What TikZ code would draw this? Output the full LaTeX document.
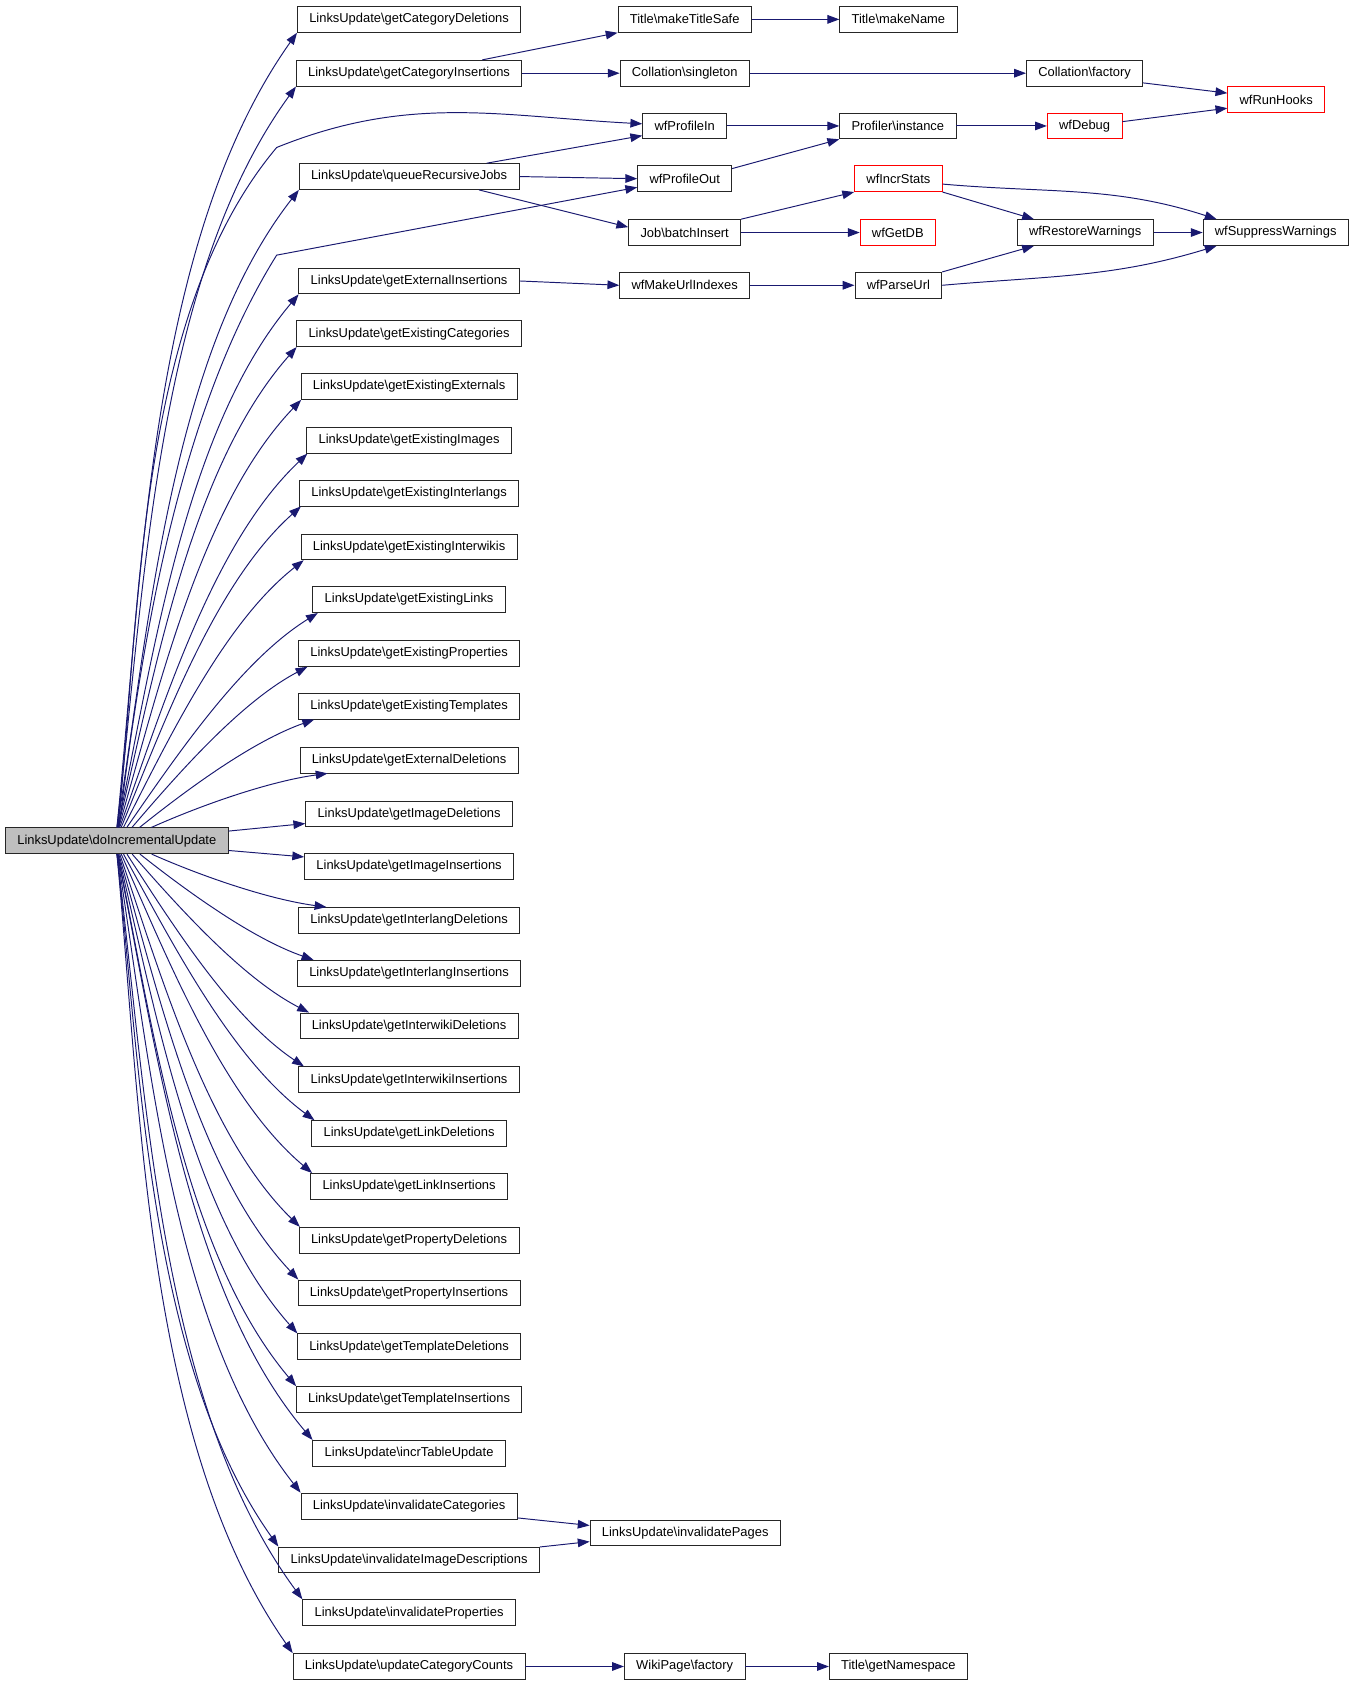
\documentclass[tikz,border=0pt]{standalone}
\usepackage{fontspec}
\newfontfamily\dxfont{Liberation Sans}
\usetikzlibrary{arrows.meta,calc}
\definecolor{edgeblue}{RGB}{25,25,112}
\definecolor{rootgray}{RGB}{191,191,191}
\definecolor{warnred}{RGB}{255,0,0}
\tikzset{
  fn/.style={draw=black!85,line width=0.8pt,fill=white,inner xsep=11pt,
    inner ysep=0pt,minimum height=24pt,font=\dxfont\fontsize{12}{14}\selectfont},
  fnred/.style={fn,draw=warnred},
  fnroot/.style={fn,fill=rootgray},
  call/.style={draw=edgeblue,line width=0.9pt,-{Triangle[length=11pt,width=8pt]}}
}

\begin{document}
\begin{tikzpicture}[x=1pt,y=1pt]
\useasboundingbox (0,0) rectangle (1259,-1568);

% caller
\node[fnroot] (root) at (108.5,-781) {LinksUpdate\textbackslash doIncrementalUpdate};

% direct callees
\foreach \nd/\yy/\txt in {cd/18/getCategoryDeletions, ci/68/getCategoryInsertions,
    qrj/164/queueRecursiveJobs, gei/261/getExternalInsertions,
    gxc/310/getExistingCategories, gxe/359/getExistingExternals,
    gxi/409/getExistingImages, gxl/458/getExistingInterlangs,
    gxw/508/getExistingInterwikis, gxk/557/getExistingLinks,
    gxp/607/getExistingProperties, gxt/656/getExistingTemplates,
    ged/706/getExternalDeletions, gid/756/getImageDeletions,
    gii/805/getImageInsertions, gld/855/getInterlangDeletions,
    gli/904/getInterlangInsertions, gwd/953/getInterwikiDeletions,
    gwi/1003/getInterwikiInsertions, gkd/1053/getLinkDeletions,
    gki/1102/getLinkInsertions, gpd/1152/getPropertyDeletions,
    gpi/1201/getPropertyInsertions, gtd/1251/getTemplateDeletions,
    gti/1300/getTemplateInsertions, itu/1350/incrTableUpdate,
    ic/1399/invalidateCategories, iid/1449/invalidateImageDescriptions,
    ip/1498/invalidateProperties, ucc/1548/updateCategoryCounts}
  \node[fn] (\nd) at (380,-\yy) {LinksUpdate\textbackslash \txt};

% second level
\node[fn] (mts) at (636,-18) {Title\textbackslash makeTitleSafe};
\node[fn] (sing) at (636,-68) {Collation\textbackslash singleton};
\node[fn] (wpi) at (636,-117) {wfProfileIn};
\node[fn] (wpo) at (636,-166) {wfProfileOut};
\node[fn] (jbi) at (636,-216) {Job\textbackslash batchInsert};
\node[fn] (wmu) at (636,-265) {wfMakeUrlIndexes};
\node[fn] (iup) at (636.5,-1424) {LinksUpdate\textbackslash invalidatePages};
\node[fn] (wpf) at (636,-1548) {WikiPage\textbackslash factory};

% third level
\node[fn] (tmn) at (834.5,-18) {Title\textbackslash makeName};
\node[fn] (pin) at (834,-117) {Profiler\textbackslash instance};
\node[fnred] (wis) at (834.5,-166) {wfIncrStats};
\node[fnred] (wgd) at (834,-216) {wfGetDB};
\node[fn] (wpu) at (834.5,-265) {wfParseUrl};
\node[fn] (tgn) at (834.5,-1548) {Title\textbackslash getNamespace};

% fourth and fifth level
\node[fn] (cfa) at (1007.5,-68) {Collation\textbackslash factory};
\node[fnred] (wdb) at (1007.5,-117) {wfDebug};
\node[fn] (wrw) at (1008,-216) {wfRestoreWarnings};
\node[fnred] (wrh) at (1185.5,-92.5) {wfRunHooks};
\node[fn] (wsw) at (1185,-216) {wfSuppressWarnings};

% fan out of the caller
\foreach \nd/\yy in {cd/18,ci/68,qrj/164,gei/261,gxc/310,gxe/359,gxi/409,
    gxl/458,gxw/508,gxk/557,gxp/607,gxt/656,ged/706,gld/855,gli/904,
    gwd/953,gwi/1003,gkd/1053,gki/1102,gpd/1152,gpi/1201,gtd/1251,
    gti/1300,itu/1350,ic/1399,iid/1449,ip/1498,ucc/1548}{
  \pgfmathsetmacro\dy{781-\yy}
  \pgfmathsetmacro\ady{abs(\dy)}
  \pgfmathsetmacro\sx{60*exp(-\ady/120)}
  \pgfmathsetmacro\off{60*exp(-\ady/90)}
  \pgfmathsetmacro\bnd{20*(1-exp(-\ady/200))+3}
  \ifdim\dy pt>0pt
    \draw[call] let \p1=([xshift=\sx]root.north),
        \p2=([xshift=\off]\nd.south west),
        \n1={atan2(\y2-\y1,\x2-\x1)}, \n2={\n1+7}, \n3={180+\n1-\bnd} in
      (\p1) to[out=\n2,in=\n3,looseness=0.8] (\p2);
  \else
    \draw[call] let \p1=([xshift=\sx]root.south),
        \p2=([xshift=\off]\nd.north west),
        \n1={atan2(\y2-\y1,\x2-\x1)}, \n2={\n1-7}, \n3={180+\n1+\bnd} in
      (\p1) to[out=\n2,in=\n3,looseness=0.8] (\p2);
  \fi
}
\draw[call] ([yshift=9]root.east) -- ([yshift=-9]gid.west);
\draw[call] ([yshift=-9]root.east) -- ([yshift=9]gii.west);

% caller straight to the profiler
\coordinate (kinkA) at (257,-137);
\coordinate (kinkB) at (257,-237);
\draw[call] ([xshift=1]root.north) to[out=84,in=230,looseness=0.8] (kinkA)
  to[out=22,in=177] ([yshift=2]wpi.west);
\draw[call] ([xshift=2]root.north) to[out=83,in=238,looseness=0.8] (kinkB)
  -- ([yshift=-8]wpo.west);

% deeper calls
\draw[call] ([xshift=68]ci.north) -- (mts.south west);
\draw[call] (ci.east) -- (sing.west);
\draw[call] (mts.east) -- (tmn.west);
\draw[call] (sing.east) -- (cfa.west);
\draw[call] ([yshift=-9]cfa.east) -- ([yshift=6]wrh.west);
\draw[call] ([yshift=4]wdb.east) -- ([yshift=-8]wrh.west);
\draw[call] ([xshift=72]qrj.north) -- ([yshift=-9]wpi.west);
\draw[call] (qrj.east) -- (wpo.west);
\draw[call] ([xshift=65]qrj.south) -- ([yshift=5]jbi.west);
\draw[call] (wpi.east) -- (pin.west);
\draw[call] ([yshift=-3]wpo.north east) -- (pin.south west);
\draw[call] (pin.east) -- (wdb.west);
\draw[call] (jbi.north east) -- (wis.south west);
\draw[call] (jbi.east) -- (wgd.west);
\draw[call] (wis.south east) -- ([xshift=16]wrw.north west);
\draw[call] ([yshift=-5]wis.east) to[out=-5,in=162] ([xshift=13]wsw.north west);
\draw[call] (wpu.north east) -- ([xshift=16]wrw.south west);
\draw[call] (wpu.east) to[out=5,in=197] ([xshift=13]wsw.south west);
\draw[call] (wrw.east) -- (wsw.west);
\draw[call] (gei.east) -- (wmu.west);
\draw[call] (wmu.east) -- (wpu.west);
\draw[call] ([yshift=-11]ic.east) -- ([yshift=7]iup.west);
\draw[call] ([yshift=12]iid.east) -- ([yshift=-8]iup.west);
\draw[call] (ucc.east) -- (wpf.west);
\draw[call] (wpf.east) -- (tgn.west);
\end{tikzpicture}
\end{document}
